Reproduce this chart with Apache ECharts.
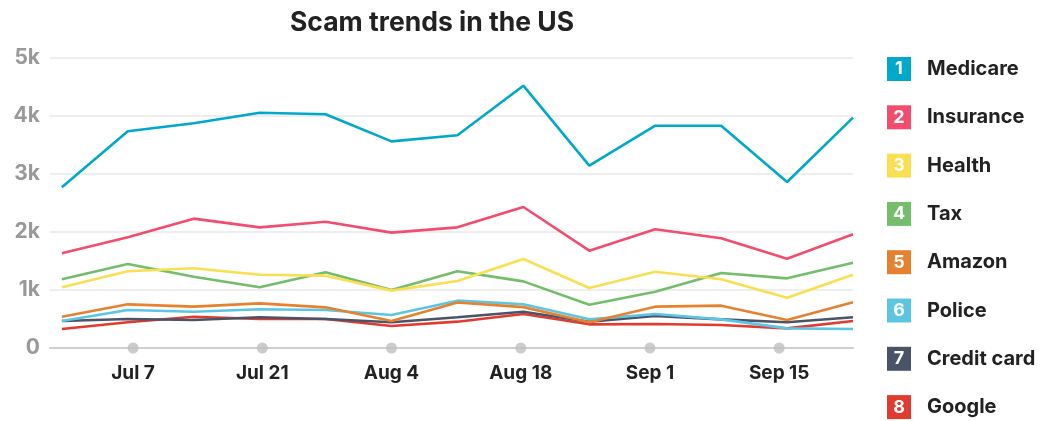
<!DOCTYPE html>
<html>
<head>
<meta charset="utf-8">
<script src="https://cdn.jsdelivr.net/npm/echarts@6/dist/echarts.min.js"></script>
<style>html,body{margin:0;padding:0;background:#fff}#c{width:1050px;height:421px}</style>
</head>
<body>
<div id="c"></div>
<script>
// weekly observations (13 weeks)
const seriesNames = ['Medicare','Insurance','Health','Tax','Amazon','Police','Credit card','Google'];
const medicare   = [2770,3736,3874,4057,4029,3563,3667,4523,3144,3833,3833,2862,3971];
const insurance  = [1632,1908,2230,2080,2178,1989,2080,2431,1678,2046,1891,1540,1960];
const health     = [1046,1322,1374,1264,1247,989,1155,1534,1034,1316,1184,868,1264];
const tax        = [1184,1448,1230,1046,1305,1000,1322,1149,747,971,1293,1201,1471];
const amazon     = [540,753,713,770,701,466,785,705,443,713,730,483,787];
const police     = [466,655,626,667,655,569,816,755,494,586,494,339,328];
const creditCard = [466,500,483,529,500,443,529,626,454,552,494,443,529];
const google     = [328,443,540,500,500,379,454,586,408,414,397,339,466];
const seriesColors = ['#00a8cc','#f24d6f','#f9df52','#73bd6b','#e6822f','#5cc6e2','#4a5468','#e13b2f'];
// date ticks (days from Jul 7)
const tickDays   = [0,14,28,42,56,70];
const tickLabels = ['Jul 7','Jul 21','Aug 4','Aug 18','Sep 1','Sep 15'];

const allData = [medicare,insurance,health,tax,amazon,police,creditCard,google];
const FONT = 'Inter, "Noto Sans", sans-serif';

const rich = { t: { fontSize: 20, fontWeight: 700, color: '#222', fontFamily: FONT, lineHeight: 24, padding: [0,0,0,16] } };
seriesColors.forEach((c,i)=>{
  rich['b'+i] = { backgroundColor: c, color: '#fff', width: 24, height: 24, lineHeight: 24,
    align: 'center', fontSize: 18, fontWeight: 700, fontFamily: FONT };
});

const series = allData.map((arr,i)=>({
  name: seriesNames[i], type: 'line', xAxisIndex: 0, yAxisIndex: 0,
  data: arr.map((v,k)=>[k,v]), showSymbol: false, symbol: 'none',
  lineStyle: { width: 2.6, color: seriesColors[i] }, itemStyle: { color: seriesColors[i] },
  z: 10 - i, animation: false
}));
series.push({
  type: 'scatter', xAxisIndex: 1, yAxisIndex: 0, data: tickDays.map(d=>[d,0]),
  symbolSize: 11, itemStyle: { color: '#bfbfbf' }, clip: false, z: 20, silent: true, animation: false
});

const chart = echarts.init(document.getElementById('c'), null, {renderer:'canvas'});
chart.setOption({
  animation: false,
  title: { text: 'Scam trends in the US', left: 285, top: 5,
    textStyle: { fontSize: 26.5, fontWeight: 700, color: '#222', fontFamily: FONT } },
  grid: { left: 50, right: 197, top: 58, bottom: 73, containLabel: false },
  legend: {
    orient: 'vertical', left: 882, top: 57, bottom: 0, itemGap: 24.3, itemWidth: 0, itemHeight: 24,
    icon: 'rect', selectedMode: false, padding: 0,
    data: seriesNames,
    formatter: name => '{b' + seriesNames.indexOf(name) + '|' + (seriesNames.indexOf(name)+1) + '}{t|' + name + '}',
    textStyle: { rich: rich, padding: 0 }
  },
  xAxis: [
    { type: 'value', min: -0.18, max: 12, show: false },
    { type: 'value', min: -9, max: 78, position: 'bottom',
      axisLine: { show: true, onZero: false, lineStyle: { color: '#cfcfcf', width: 2 } },
      axisTick: { show: false }, splitLine: { show: false },
      axisLabel: { customValues: tickDays, margin: 16, fontSize: 19, fontWeight: 700, color: '#222', fontFamily: FONT,
        formatter: v => tickLabels[tickDays.indexOf(v)] || '' } }
  ],
  yAxis: { type: 'value', min: 0, max: 5000, interval: 1000,
    axisLine: { show: false }, axisTick: { show: false },
    splitLine: { lineStyle: { color: '#e8e8e8', width: 1.5 } },
    axisLabel: { margin: 10, fontSize: 21, fontWeight: 700, color: '#999', fontFamily: FONT,
      formatter: v => v === 0 ? '0' : (v/1000) + 'k' } },
  series: series
});
</script>
</body>
</html>
